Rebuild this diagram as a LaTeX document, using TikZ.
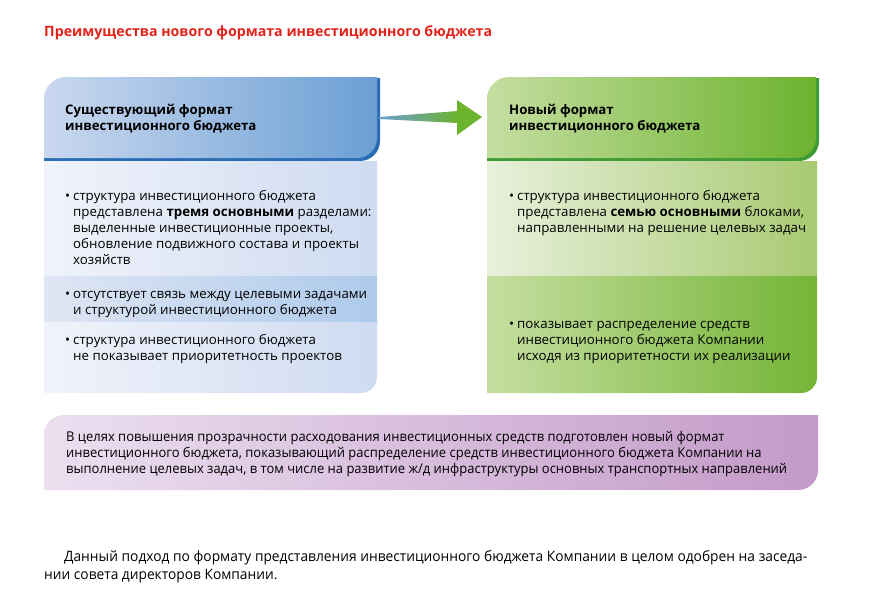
\documentclass[tikz,border=0pt]{standalone}
\usepackage{fontspec}
\setmainfont{Open Sans}
\newfontfamily\condfont[FakeStretch=0.962]{Open Sans}
\usetikzlibrary{positioning}

\definecolor{titlered}{HTML}{E2231A}
\definecolor{blueheadL}{HTML}{CAD8EF}
\definecolor{blueheadR}{HTML}{6B9FD4}
\definecolor{blueshadow}{HTML}{2B6DB5}
\definecolor{bluebodyL}{HTML}{F0F3FA}
\definecolor{bluebodyR}{HTML}{CFDBF1}
\definecolor{bluemidL}{HTML}{DFE6F4}
\definecolor{bluemidR}{HTML}{ADCAEB}
\definecolor{greenheadL}{HTML}{C5DEA1}
\definecolor{greenheadR}{HTML}{6CB32E}
\definecolor{greenshadow}{HTML}{3E9B35}
\definecolor{greenbodyL}{HTML}{E8F0DB}
\definecolor{greenbodyR}{HTML}{A8CA72}
\definecolor{greenlowL}{HTML}{C5DEA0}
\definecolor{greenlowR}{HTML}{74B536}
\definecolor{purpleL}{HTML}{ECDFF0}
\definecolor{purpleR}{HTML}{C39AC8}

% base anchor of a multi-line node sits on its last line
\tikzset{
  boxtext/.style={anchor=base west, inner sep=0pt, align=left,
    font=\fontsize{13.3}{16}\selectfont},
  headtext/.style={boxtext, font=\fontsize{13.2}{16.5}\selectfont\bfseries},
  notetext/.style={boxtext, font=\condfont\fontsize{13.5}{15.6}\selectfont}
}
\newcommand{\bul}{\llap{\textbullet\hspace{3pt}}}

\begin{document}
\begin{tikzpicture}[x=1pt,y=-1pt]
    \useasboundingbox (0,0) rectangle (874,592);

    % title
    \node[anchor=base west, inner sep=0pt, text=titlered,
      font=\fontsize{14.2}{16}\selectfont\bfseries] (title) at (44,36)
      {Преимущества нового формата инвестиционного бюджета};

    % left block
    \fill[blueshadow] (44,161) [rounded corners=22pt] -- (44,78) [sharp corners] -- (380,78)
      [rounded corners=20pt] -- (380,161) [sharp corners] -- cycle;
    \shade[left color=blueheadL, right color=blueheadR] (44,158) [rounded corners=22pt] -- (44,77)
      [sharp corners] -- (377,77) [rounded corners=20pt] -- (377,158) [sharp corners] -- cycle;
    \shade[left color=bluebodyL, right color=bluebodyR] (44,161) rectangle (377,276);
    \shade[left color=bluemidL, right color=bluemidR] (44,276) rectangle (377,322);
    \shade[left color=bluebodyL, right color=bluebodyR] (44,322) -- (377,322)
      [rounded corners=16pt] -- (377,393) [sharp corners] -- (44,393) -- cycle;

    % right block
    \fill[greenshadow] (487,161) [rounded corners=22pt] -- (487,78) [sharp corners] -- (819,78)
      [rounded corners=20pt] -- (819,161) [sharp corners] -- cycle;
    \shade[left color=greenheadL, right color=greenheadR] (487,158) [rounded corners=22pt] -- (487,77)
      [sharp corners] -- (816,77) [rounded corners=20pt] -- (816,158) [sharp corners] -- cycle;
    \shade[left color=greenbodyL, right color=greenbodyR] (487,161) rectangle (817,276);
    \shade[left color=greenlowL, right color=greenlowR] (487,276) -- (817,276)
      [rounded corners=16pt] -- (817,393) [sharp corners] -- (487,393) -- cycle;

    % arrow between the blocks
    \shade[left color=blueheadR, right color=greenheadR] (379,117) -- (458,111) -- (458,123)
      -- (379,119) -- cycle;
    \fill[greenheadR] (457,100) -- (482,117) -- (457,135) -- cycle;

    % note box
    \shade[left color=purpleL, right color=purpleR] (44,490) [rounded corners=20pt] -- (44,415)
      [sharp corners] -- (818,415) [rounded corners=20pt] -- (818,490) [sharp corners] -- cycle;

    % header texts
    \node[headtext] (oldhead) at (65,130.5) {Существующий формат\\инвестиционного бюджета};
    \node[headtext] (newhead) at (509,130.5) {Новый формат\\инвестиционного бюджета};

    % left items
    \node[boxtext] (old1) at (73,264) {\bul структура инвестиционного бюджета\\
      представлена \textbf{тремя основными} разделами:\\
      выделенные инвестиционные проекты,\\
      обновление подвижного состава и проекты\\
      хозяйств};
    \node[boxtext] (old2) at (73,314) {\bul отсутствует связь между целевыми задачами\\
      и структурой инвестиционного бюджета};
    \node[boxtext] (old3) at (73,360) {\bul структура инвестиционного бюджета\\
      не показывает приоритетность проектов};

    % right items
    \node[boxtext] (new1) at (517,232) {\bul структура инвестиционного бюджета\\
      представлена \textbf{семью основными} блоками,\\
      направленными на решение целевых задач};
    \node[boxtext] (new2) at (517,360) {\bul показывает распределение средств\\
      инвестиционного бюджета Компании\\
      исходя из приоритетности их реализации};

    % note text
    \node[notetext] (note) at (66,473) {В целях повышения прозрачности расходования инвестиционных средств подготовлен новый формат\\
      инвестиционного бюджета, показывающий распределение средств инвестиционного бюджета Компании на\\
      выполнение целевых задач, в том числе на развитие ж/д инфраструктуры основных транспортных направлений};

    % closing paragraph (first baseline at the anchor)
    \node[anchor=base west, inner sep=0pt, text width=763pt, align=justify,
      font=\condfont\fontsize{14.3}{18}\selectfont] (summary) at (44,561)
      {\hspace*{20pt}Данный подход по формату представления инвестиционного бюджета Компании в целом одобрен на заседа-\linebreak
      нии совета директоров Компании.};
\end{tikzpicture}
\end{document}
